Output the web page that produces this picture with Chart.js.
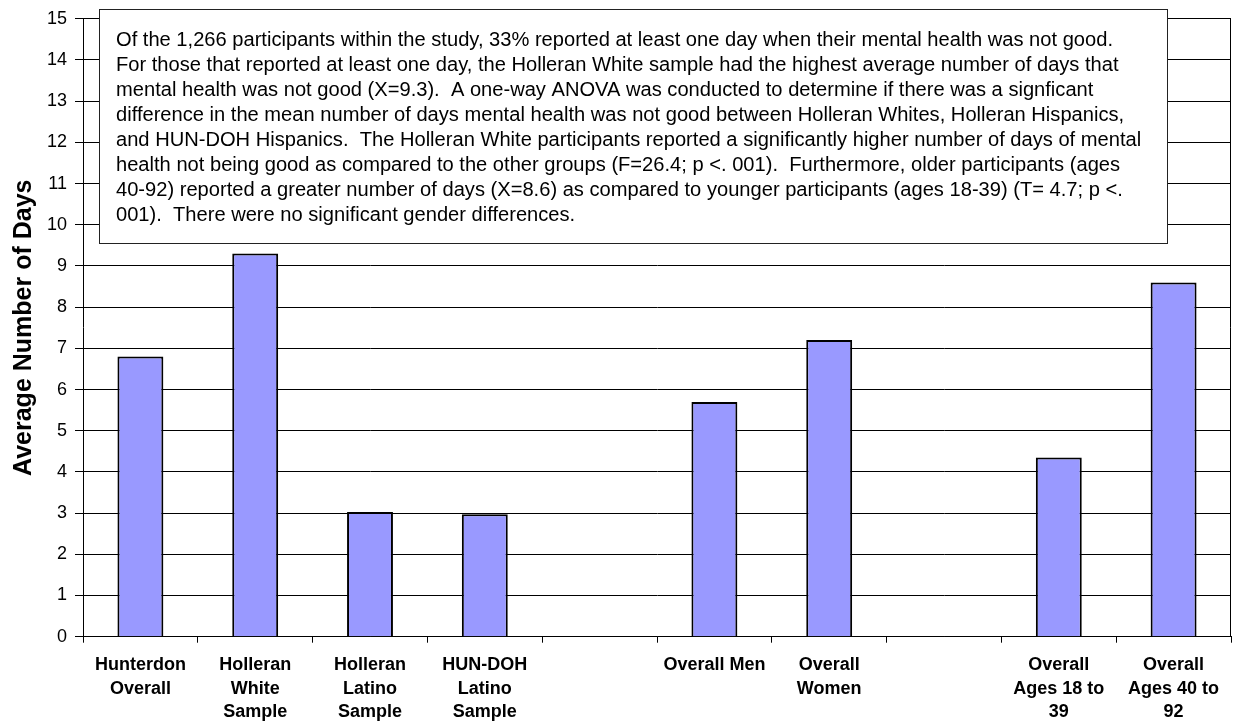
<!DOCTYPE html>
<html>
<head>
<meta charset="utf-8">
<script src="https://cdn.jsdelivr.net/npm/chart.js@4.4.0/dist/chart.umd.min.js"></script>
<style>
  html, body { margin: 0; padding: 0; background: #fff; }
  #wrap { width: 1233px; height: 724px; position: relative; }
</style>
</head>
<body>
<div id="wrap"><canvas id="chart"></canvas></div>
<script>
// Mental health days chart: average number of days, by group.
// Empty categories are gaps between the group clusters.

const CATEGORIES = [
  ['Hunterdon', 'Overall'],
  ['Holleran', 'White', 'Sample'],
  ['Holleran', 'Latino', 'Sample'],
  ['HUN-DOH', 'Latino', 'Sample'],
  '',
  ['Overall Men'],
  ['Overall', 'Women'],
  '',
  ['Overall', 'Ages 18 to', '39'],
  ['Overall', 'Ages 40 to', '92'],
];

const AVG_DAYS = [6.8, 9.3, 3.03, 2.97, null, 5.7, 7.2, null, 4.35, 8.6];

const Y_MIN = 0;
const Y_MAX = 15;
const Y_STEP = 1;
const Y_TITLE = 'Average Number of Days';

const NOTE_LINES = [
  'Of the 1,266 participants within the study, 33% reported at least one day when their mental health was not good.',
  'For those that reported at least one day, the Holleran White sample had the highest average number of days that',
  'mental health was not good (X=9.3).  A one-way ANOVA was conducted to determine if there was a signficant',
  'difference in the mean number of days mental health was not good between Holleran Whites, Holleran Hispanics,',
  'and HUN-DOH Hispanics.  The Holleran White participants reported a significantly higher number of days of mental',
  'health not being good as compared to the other groups (F=26.4; p <. 001).  Furthermore, older participants (ages',
  '40-92) reported a greater number of days (X=8.6) as compared to younger participants (ages 18-39) (T= 4.7; p <.',
  '001).  There were no significant gender differences.',
];

const FONT = '"Liberation Sans", Arial, sans-serif';

// --- Plot area border (right edge) ---
const plotBorder = {
  id: 'plotBorder',
  beforeDatasetsDraw(chart) {
    const { ctx, chartArea: a } = chart;
    ctx.save();
    ctx.strokeStyle = '#000';
    ctx.lineWidth = 1;
    ctx.beginPath();
    ctx.moveTo(Math.round(a.right) - 0.5, a.top);
    ctx.lineTo(Math.round(a.right) - 0.5, a.bottom);
    ctx.stroke();
    ctx.restore();
  },
};

// --- Text box over the chart ---
const noteBox = {
  id: 'noteBox',
  afterDraw(chart) {
    const ctx = chart.ctx;
    const box = { x: 99.5, y: 9.5, w: 1068, h: 234 };
    ctx.save();
    ctx.fillStyle = '#fff';
    ctx.fillRect(box.x, box.y, box.w, box.h);
    ctx.strokeStyle = '#222';
    ctx.lineWidth = 1;
    ctx.strokeRect(box.x, box.y, box.w, box.h);

    ctx.font = '20px ' + FONT;
    ctx.fillStyle = '#000';
    ctx.textBaseline = 'middle';
    ctx.textAlign = 'left';
    // stretch text so the first line spans the same width as the original
    const sx = 997 / ctx.measureText(NOTE_LINES[0]).width;
    const left = 116;
    NOTE_LINES.forEach((line, i) => {
      ctx.save();
      ctx.translate(left, 40 + i * 25);
      ctx.scale(sx, 1);
      ctx.fillText(line, 0, 0);
      ctx.restore();
    });
    ctx.restore();
  },
};

new Chart(document.getElementById('chart'), {
  type: 'bar',
  data: {
    labels: CATEGORIES,
    datasets: [{
      data: AVG_DAYS,
      backgroundColor: '#9999FF',
      borderColor: '#000',
      borderWidth: 2,
      barPercentage: 0.4,
      categoryPercentage: 1.0,
    }],
  },
  options: {
    responsive: true,
    maintainAspectRatio: false,
    animation: false,
    layout: { padding: { top: 17.6, right: 2, bottom: 0, left: 0 } },
    plugins: {
      legend: { display: false },
      tooltip: { enabled: false },
    },
    scales: {
      x: {
        grid: {
          offset: true,
          drawOnChartArea: false,
          drawTicks: true,
          tickLength: 6,
          tickColor: '#000',
        },
        border: { color: '#000', width: 1 },
        ticks: {
          color: '#000',
          padding: 11,
          maxRotation: 0,
          autoSkip: false,
          font: { family: FONT, size: 18, weight: 'bold', lineHeight: 1.3 },
        },
        afterFit: (s) => { s.height = 87.3; },
      },
      y: {
        min: Y_MIN,
        max: Y_MAX,
        ticks: {
          stepSize: Y_STEP,
          color: '#000',
          padding: 8,
          font: { family: FONT, size: 18 },
        },
        grid: {
          color: '#000',
          lineWidth: 1,
          tickLength: 8,
          tickColor: '#000',
        },
        border: { color: '#000', width: 1 },
        title: {
          display: true,
          text: Y_TITLE,
          color: '#000',
          padding: { top: 9, bottom: 0 },
          font: { family: FONT, size: 25, weight: 'bold' },
        },
        afterFit: (s) => { s.width = 83; },
      },
    },
  },
  plugins: [plotBorder, noteBox],
});
</script>
</body>
</html>
